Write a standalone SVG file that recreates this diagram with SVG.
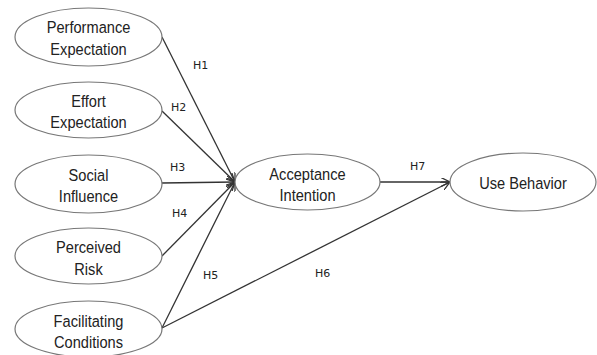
<svg xmlns="http://www.w3.org/2000/svg" width="597" height="355" viewBox="0 0 597 355">
<style>
.n ellipse{fill:#fff;stroke:#777;stroke-width:1.2}
.n text{font-family:"Liberation Sans",Arial,sans-serif;font-size:17px;fill:#222;text-anchor:middle}
.c line{stroke:#333;stroke-width:1.3;marker-end:url(#a)}
.l{font-family:"DejaVu Sans","Liberation Sans",sans-serif;font-size:11px;fill:#222}
</style>
<defs>
<marker id="a" viewBox="0 0 10 10" refX="10" refY="5" markerWidth="9" markerHeight="9" markerUnits="userSpaceOnUse" orient="auto">
<path d="M0,0 L10,5 L0,10" fill="none" stroke="#333" stroke-width="1.4"/>
</marker>
</defs>
<rect width="597" height="355" fill="#fff"/>
<g class="c">
<line x1="162" y1="37" x2="235" y2="182"/>
<line x1="162" y1="111" x2="235" y2="182"/>
<line x1="162" y1="183" x2="235" y2="182"/>
<line x1="162" y1="256" x2="235" y2="182"/>
<line x1="162" y1="328" x2="235" y2="182"/>
<line x1="162" y1="328" x2="450" y2="182"/>
<line x1="380" y1="182" x2="450" y2="182"/>
</g>
<g id="lbl">
<text class="l" x="193" y="69">H1</text>
<text class="l" x="171" y="111">H2</text>
<text class="l" x="170" y="171">H3</text>
<text class="l" x="172" y="217">H4</text>
<text class="l" x="203" y="279">H5</text>
<text class="l" x="315" y="277">H6</text>
<text class="l" x="410" y="170">H7</text>
</g>
<g id="pe" class="n"><ellipse cx="88.5" cy="37" rx="73.5" ry="29"/><text transform="translate(88.5 33) scale(0.86 1)">Performance</text><text transform="translate(88.5 55) scale(0.86 1)">Expectation</text></g>
<g id="ee" class="n"><ellipse cx="88.5" cy="110" rx="73.5" ry="28"/><text transform="translate(88.5 107) scale(0.86 1)">Effort</text><text transform="translate(88.5 128) scale(0.86 1)">Expectation</text></g>
<g id="si" class="n"><ellipse cx="88.5" cy="184" rx="73.5" ry="29"/><text transform="translate(88.5 181) scale(0.86 1)">Social</text><text transform="translate(88.5 202) scale(0.86 1)">Influence</text></g>
<g id="pr" class="n"><ellipse cx="88.5" cy="256" rx="73.5" ry="28"/><text transform="translate(88.5 253) scale(0.86 1)">Perceived</text><text transform="translate(88.5 275) scale(0.86 1)">Risk</text></g>
<g id="fc" class="n"><ellipse cx="88.5" cy="329" rx="73.5" ry="28"/><text transform="translate(88.5 327) scale(0.86 1)">Facilitating</text><text transform="translate(88.5 348) scale(0.86 1)">Conditions</text></g>
<g id="ai" class="n"><ellipse cx="307.5" cy="182" rx="72.5" ry="28"/><text transform="translate(307.5 180) scale(0.86 1)">Acceptance</text><text transform="translate(307.5 201) scale(0.86 1)">Intention</text></g>
<g id="ub" class="n"><ellipse cx="523" cy="182" rx="73" ry="29"/><text transform="translate(523 189) scale(0.86 1)">Use Behavior</text></g>
</svg>
